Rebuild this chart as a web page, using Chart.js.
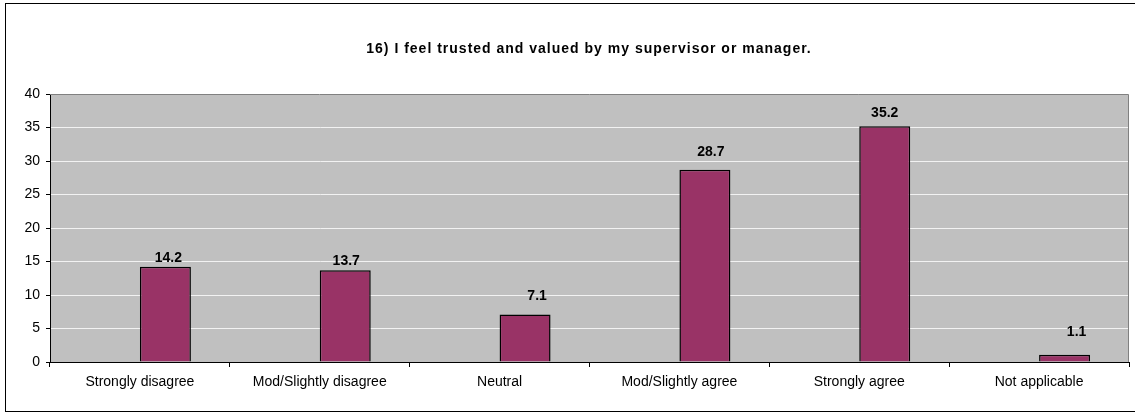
<!DOCTYPE html>
<html>
<head>
<meta charset="utf-8">
<script src="https://cdn.jsdelivr.net/npm/chart.js@4/dist/chart.umd.min.js"></script>
<style>
  html, body { margin: 0; padding: 0; background: #ffffff; }
  #wrap { width: 1135px; height: 414px; position: relative; }
</style>
</head>
<body>
<div id="wrap"><canvas id="c" width="1135" height="414"></canvas></div>
<script>
const chartTitle = '16) I feel trusted and valued by my supervisor or manager.';
const categories = ['Strongly disagree', 'Mod/Slightly disagree', 'Neutral', 'Mod/Slightly agree', 'Strongly agree', 'Not applicable'];
const percentValues = [14.2, 13.7, 7.1, 28.7, 35.2, 1.1];
const emptySeries = [null, null, null, null, null, null];
const yTicks = [0, 5, 10, 15, 20, 25, 30, 35, 40];

// manual label nudges (dx, dy from bar top) as placed in the original
const labelNudge = [[3, -9], [1, -9], [12, -18], [6, -18], [0, -13], [12, -22]];

const FONT = "'Liberation Sans', Arial, sans-serif";

const framePlugin = {
  id: 'frame',
  beforeDraw(chart) {
    const { ctx, chartArea: a } = chart;
    ctx.save();
    ctx.fillStyle = '#ffffff';
    ctx.fillRect(0, 0, chart.width, chart.height);
    ctx.fillStyle = '#C0C0C0';
    ctx.fillRect(a.left, a.top, a.right - a.left, a.bottom - a.top);
    ctx.strokeStyle = '#000000';
    ctx.lineWidth = 1;
    ctx.strokeRect(5.5, 3.5, chart.width + 10, 408);
    ctx.restore();
  },
  afterDatasetsDraw(chart) {
    const { ctx, chartArea: a } = chart;
    ctx.save();
    ctx.strokeStyle = '#808080';
    ctx.lineWidth = 1;
    ctx.beginPath();
    ctx.moveTo(a.left, a.top + 0.5);
    ctx.lineTo(a.right - 0.5, a.top + 0.5);
    ctx.lineTo(a.right - 0.5, a.bottom);
    ctx.stroke();
    // title
    ctx.fillStyle = '#000000';
    ctx.font = 'bold 14px ' + FONT;
    ctx.letterSpacing = '1px';
    ctx.textAlign = 'center';
    ctx.textBaseline = 'middle';
    ctx.fillText(chartTitle, 589, 49);
    ctx.letterSpacing = '0px';
    // value labels
    const meta = chart.getDatasetMeta(1);
    ctx.font = 'bold 14px ' + FONT;
    meta.data.forEach((bar, i) => {
      const v = percentValues[i];
      const n = labelNudge[i];
      ctx.fillText(v.toFixed(1), bar.x + n[0], bar.y + n[1]);
    });
    ctx.restore();
  }
};

new Chart(document.getElementById('c'), {
  type: 'bar',
  data: {
    labels: categories,
    datasets: [
      { label: 'blank', data: emptySeries, backgroundColor: 'rgba(0,0,0,0)', borderWidth: 0 },
      { label: 'Percent', data: percentValues, backgroundColor: '#993366', borderColor: '#000000', borderWidth: 1.5, borderSkipped: 'bottom' }
    ]
  },
  options: {
    responsive: false,
    animation: false,
    events: [],
    layout: { padding: { left: 0, right: 6, top: 94, bottom: 0 } },
    datasets: { bar: { categoryPercentage: 0.567, barPercentage: 1.0 } },
    plugins: {
      legend: { display: false },
      title: { display: false },
      tooltip: { enabled: false }
    },
    scales: {
      x: {
        grid: { display: true, drawOnChartArea: false, drawTicks: true, tickLength: 5, color: '#000000', offset: true },
        border: { display: true, color: '#000000', width: 1 },
        ticks: { color: '#000000', font: { family: FONT, size: 14 }, padding: 7, maxRotation: 0, autoSkip: false },
        afterFit(scale) { scale.height = 52; }
      },
      y: {
        min: 0, max: 40,
        afterBuildTicks(scale) { scale.ticks = yTicks.map(v => ({ value: v })); },
        grid: { color: '#F2F2F2', tickColor: '#000000', tickLength: 4, drawTicks: true },
        border: { display: true, color: '#000000', width: 1 },
        ticks: { color: '#000000', font: { family: FONT, size: 14 }, padding: 6 },
        afterFit(scale) { scale.width = 50; }
      }
    }
  },
  plugins: [framePlugin]
});
</script>
</body>
</html>
